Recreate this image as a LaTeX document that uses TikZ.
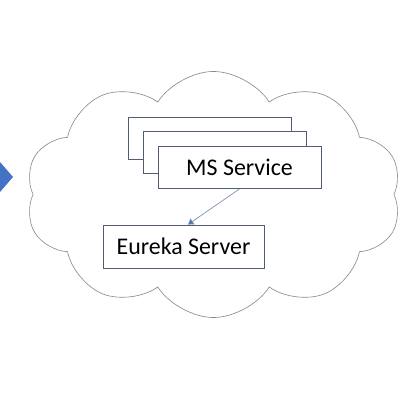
\documentclass[tikz,border=0pt]{standalone}
\usepackage{fontspec}
\setmainfont{Carlito}
\usepackage{tikz}
\usetikzlibrary{shapes.symbols, positioning, arrows.meta}
\definecolor{boxline}{HTML}{525C70}
\definecolor{cloudline}{HTML}{848A9A}
\definecolor{linkline}{HTML}{8090B8}
\definecolor{officeblue}{HTML}{4472C4}

\begin{document}
\begin{tikzpicture}[x=0.025cm, y=-0.025cm, on grid,
    msbox/.style={draw=boxline, fill=white, line width=0.6pt, minimum width=4.075cm, minimum height=1.05cm, font=\fontsize{17}{20}\selectfont},
    link/.style={draw=linkline, line width=0.5pt, -{Triangle[width=5pt, length=4pt, fill=officeblue]}}]
      \useasboundingbox (0,0) rectangle (404,405);
      % cloud around the services
      \node[cloud, cloud puffs=10, cloud puff arc=115, aspect=1.53, draw=cloudline, line width=0.45pt,
            minimum width=9.4cm, minimum height=6.15cm] (cloud) at (213.5,194.5) {};
      \node[msbox] (ms1) at (209.5,138) {};
      \node[msbox, below right=0.3625cm and 0.375cm of ms1] (ms2) {};
      \node[msbox, below right=0.375cm and 0.375cm of ms2] (ms3) {MS Service};
      \node[msbox, minimum width=4.025cm, minimum height=1.075cm] (eureka) at (183.5,246.5) {Eureka Server};
      \draw[link] (ms3.south) -- ([xshift=0.11cm]eureka.north);
      % tip of the arrow coming in from the left
      \fill[officeblue] (0,162) -- (13,177) -- (0,192) -- cycle;
\end{tikzpicture}
\end{document}
